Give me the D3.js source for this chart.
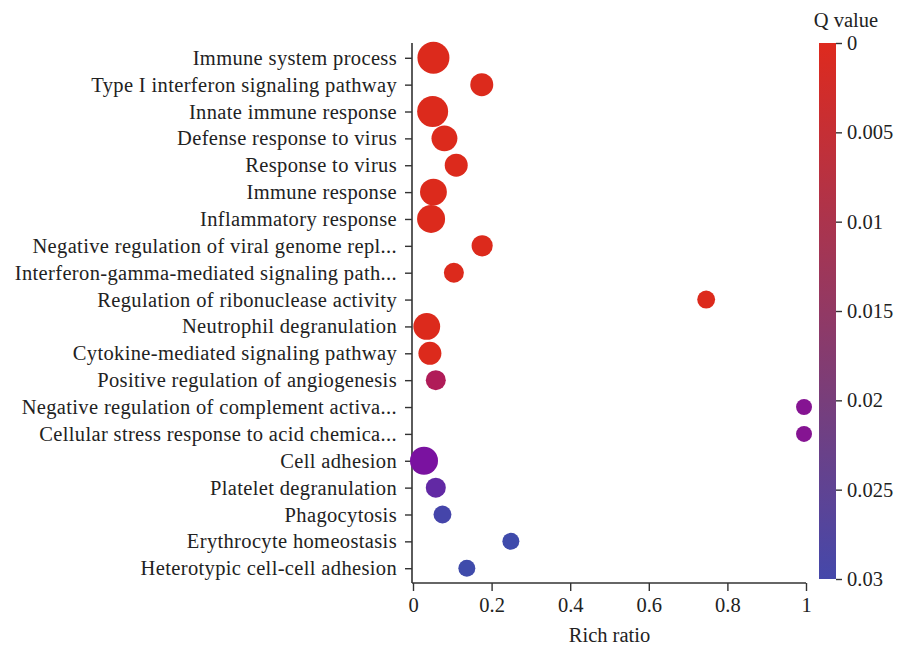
<!DOCTYPE html>
<html>
<head>
<meta charset="utf-8">
<script src="https://cdn.jsdelivr.net/npm/d3@7"></script>
<style>
  body { margin: 0; background: #fff; }
  text { font-family: "Liberation Serif", "DejaVu Serif", serif; fill: #222; }
</style>
</head>
<body>
<div id="chart"></div>
<script>
// GO terms, top to bottom
const terms = [
  'Immune system process',
  'Type I interferon signaling pathway',
  'Innate immune response',
  'Defense response to virus',
  'Response to virus',
  'Immune response',
  'Inflammatory response',
  'Negative regulation of viral genome repl...',
  'Interferon-gamma-mediated signaling path...',
  'Regulation of ribonuclease activity',
  'Neutrophil degranulation',
  'Cytokine-mediated signaling pathway',
  'Positive regulation of angiogenesis',
  'Negative regulation of complement activa...',
  'Cellular stress response to acid chemica...',
  'Cell adhesion',
  'Platelet degranulation',
  'Phagocytosis',
  'Erythrocyte homeostasis',
  'Heterotypic cell-cell adhesion',
];
const richRatio = [0.052, 0.175, 0.05, 0.08, 0.11, 0.052, 0.046, 0.176, 0.104, 0.746,
  0.035, 0.043, 0.058, 0.995, 0.995, 0.028, 0.058, 0.075, 0.249, 0.137];
const geneCount = [64, 33, 60, 42, 33, 45, 49, 28, 25, 20,
  45, 33, 25, 16, 16, 49, 25, 20, 18, 18];
const qValue = [0, 0, 0, 0, 0, 0, 0, 0, 0, 0,
  0, 0, 0.01, 0.018, 0.018, 0.02, 0.024, 0.029, 0.03, 0.03];

const xTicks = [0, 0.2, 0.4, 0.6, 0.8, 1];
const qTicks = [0, 0.005, 0.01, 0.015, 0.02, 0.025, 0.03];

const data = terms.map((t, i) => ({ term: t, x: richRatio[i], n: geneCount[i], q: qValue[i] }));

const width = 898, height = 648;
const margin = { top: 43, left: 412, bottom: 65, right: 92 };
const fontSize = 20.5;

const svg = d3.select('#chart').append('svg')
  .attr('width', width)
  .attr('height', height);

const x = d3.scaleLinear().domain([0, 1]).range([margin.left + 1, 806]);
const y = d3.scalePoint().domain(terms)
  .range([margin.top, height - margin.bottom]).padding(0.55);
const r = d3.scaleSqrt().domain([0, 64]).range([0, 16]);

// dot colours
const color = d3.scaleLinear()
  .domain([0, 0.01, 0.02, 0.03])
  .range(['#dc2a1c', '#b01c58', '#7a12a0', '#3f4bab'])
  .clamp(true);

// colour bar colours
const barColor = d3.scaleLinear().domain([0, 0.03]).range(['#de2a1e', '#4548aa']);

// axes
const xAxis = svg.append('g')
  .attr('transform', `translate(0, ${height - margin.bottom})`)
  .call(d3.axisBottom(x).tickValues(xTicks).tickFormat(d3.format('')).tickSizeOuter(0).tickSize(8));

const yAxis = svg.append('g')
  .attr('transform', `translate(${margin.left}, 0)`)
  .call(d3.axisLeft(y).tickSize(7).tickSizeOuter(0));

[xAxis, yAxis].forEach((g) => {
  g.select('.domain').attr('stroke', '#333').attr('stroke-width', 1.6);
  g.selectAll('.tick line').attr('stroke', '#333').attr('stroke-width', 1.4);
  g.selectAll('.tick text').attr('font-size', fontSize).attr('fill', '#222')
    .style('font-family', '"Liberation Serif", serif');
});
yAxis.selectAll('.tick text').attr('x', -15).attr('dy', '0.32em').style('letter-spacing', '0.35px');
xAxis.selectAll('.tick text').attr('y', 14);

// extend axis lines to the corner
yAxis.select('.domain').attr('d', `M0,${margin.top}V${height - margin.bottom}`);
xAxis.select('.domain').attr('d', `M${margin.left},0H806`);

svg.append('text')
  .attr('x', x(0.5))
  .attr('y', 642)
  .attr('text-anchor', 'middle')
  .attr('font-size', fontSize)
  .text('Rich ratio');

// dots
svg.append('g')
  .selectAll('circle')
  .data(data)
  .join('circle')
  .attr('cx', (d) => x(d.x))
  .attr('cy', (d) => y(d.term))
  .attr('r', (d) => r(d.n))
  .attr('fill', (d) => color(d.q));

// colour bar legend
const barX = 819, barW = 17, barTop = 43, barBottom = 579;
const qScale = d3.scaleLinear().domain([0, 0.03]).range([barTop, barBottom]);

const defs = svg.append('defs');
const grad = defs.append('linearGradient').attr('id', 'qgrad')
  .attr('x1', 0).attr('y1', 0).attr('x2', 0).attr('y2', 1);
grad.selectAll('stop')
  .data(qTicks)
  .join('stop')
  .attr('offset', (d) => (d / 0.03) * 100 + '%')
  .attr('stop-color', (d) => barColor(d));

svg.append('rect')
  .attr('x', barX).attr('y', barTop)
  .attr('width', barW).attr('height', barBottom - barTop)
  .attr('fill', 'url(#qgrad)');

const legendAxis = svg.append('g')
  .attr('transform', `translate(${barX + barW}, 0)`)
  .call(d3.axisRight(qScale).tickValues(qTicks).tickFormat(d3.format('')).tickSize(6).tickSizeOuter(0));
legendAxis.select('.domain').remove();
legendAxis.selectAll('.tick line').attr('stroke', '#333').attr('stroke-width', 1.4);
legendAxis.selectAll('.tick text').attr('font-size', fontSize).attr('fill', '#222').attr('x', 11)
  .style('font-family', '"Liberation Serif", serif');

svg.append('text')
  .attr('x', 846)
  .attr('y', 27)
  .attr('text-anchor', 'middle')
  .attr('font-size', fontSize)
  .text('Q value');
</script>
</body>
</html>
